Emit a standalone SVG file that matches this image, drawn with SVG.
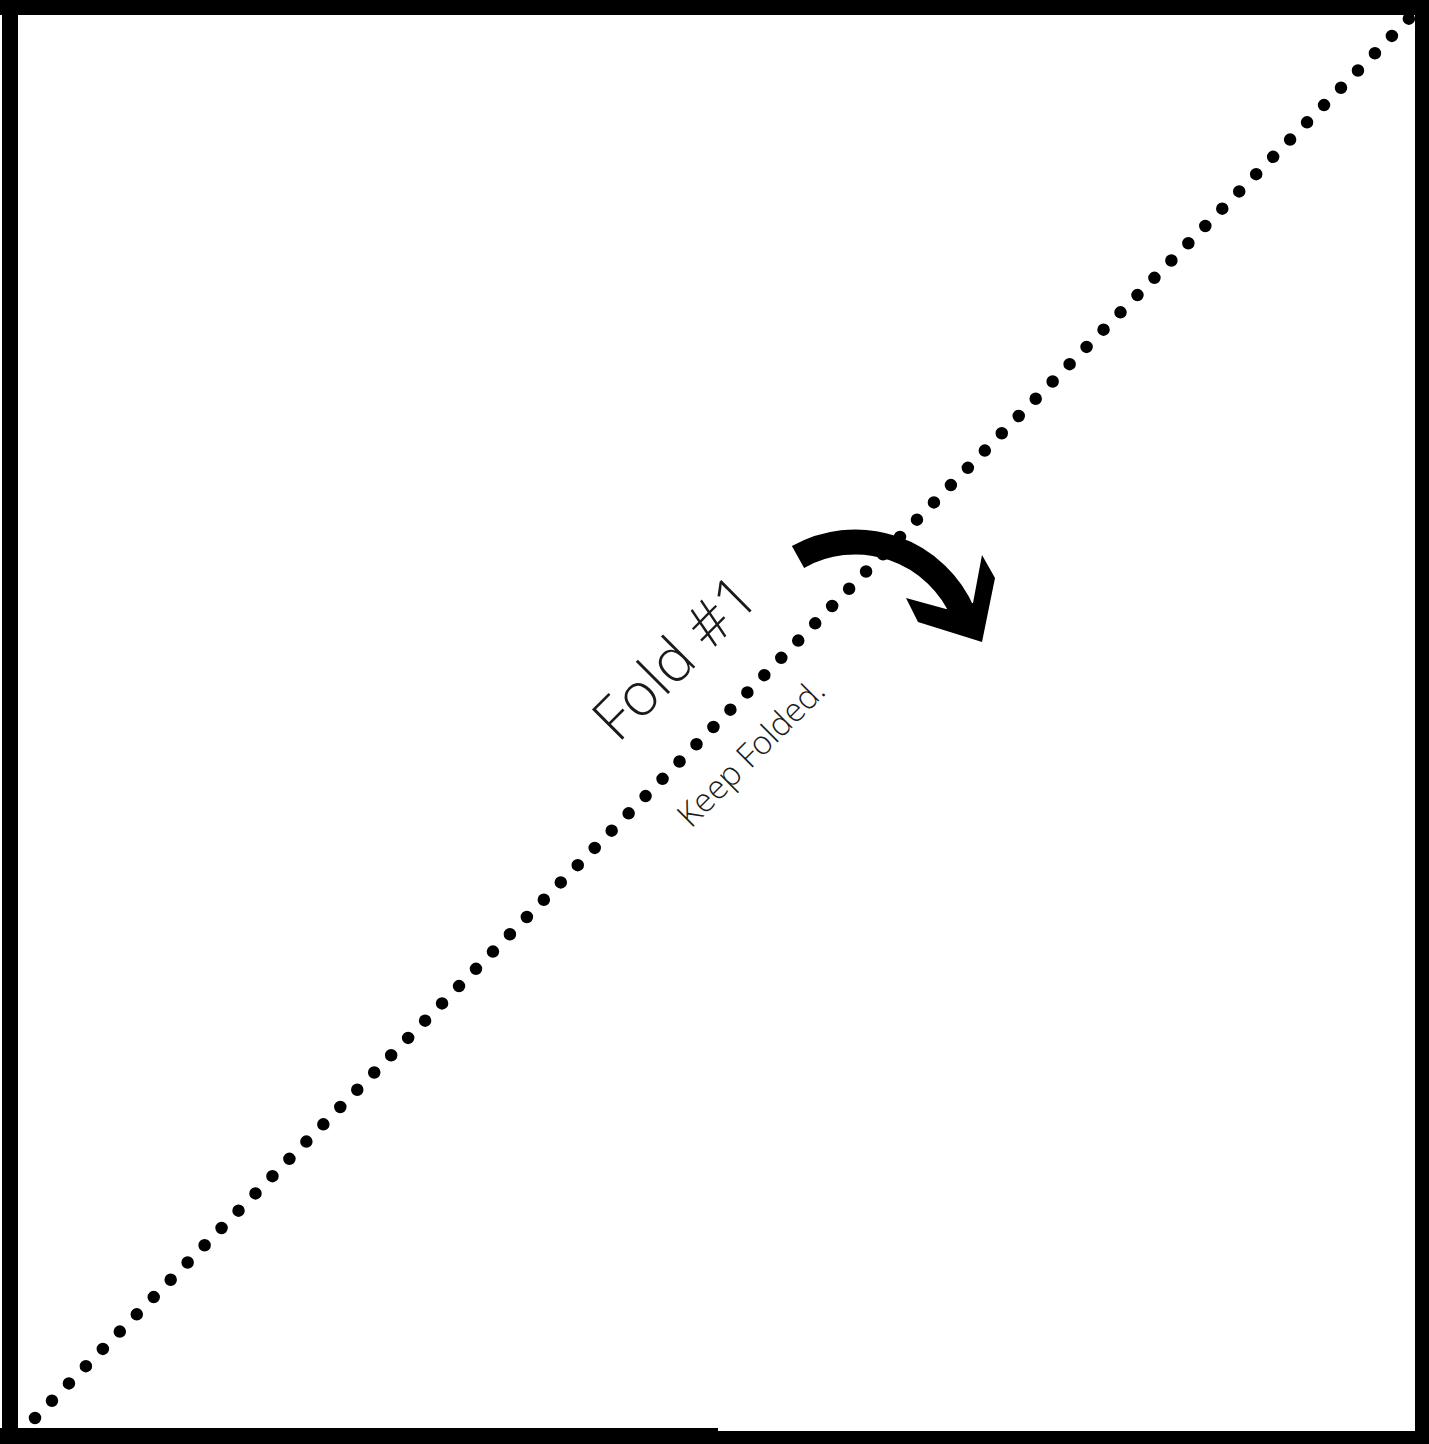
<svg xmlns="http://www.w3.org/2000/svg" width="1429" height="1444" viewBox="0 0 1429 1444">
<style>
.frame{fill:#000}
.lbl{font-family:"Open Sans","Lato","DejaVu Sans",sans-serif;font-weight:300;fill:#1a1a1a}
</style>
<rect x="0" y="0" width="1429" height="1444" fill="#fff"/>
<g id="fold-line">
<line x1="35" y1="1418" x2="1409" y2="18.5" stroke="#000" stroke-width="12.5" stroke-linecap="round" stroke-dasharray="0 24.21"/>
</g>
<g id="connectors">
<path d="M798,557 A117,117 0 0,1 963,613" fill="none" stroke="#000" stroke-width="25"/>
<polygon points="906,598 918,622 982,642 995,578 982,555 973,603 946,609" fill="#000"/>
</g>
<g id="label-fold">
<text class="lbl" x="0" y="0" font-size="60" transform="translate(618,744) rotate(-45)">Fold #1</text>
</g>
<g id="label-keep">
<text class="lbl" x="0" y="0" font-size="33" transform="translate(691,829) rotate(-45)">Keep Folded.</text>
</g>
<g id="frame">
<rect class="frame" x="0" y="0" width="1429" height="15"/>
<rect class="frame" x="2" y="0" width="16" height="1444"/>
<rect class="frame" x="1415" y="0" width="14" height="1444"/>
<rect class="frame" x="0" y="1428" width="718" height="16"/>
<rect class="frame" x="718" y="1431" width="711" height="13"/>
</g>
</svg>
